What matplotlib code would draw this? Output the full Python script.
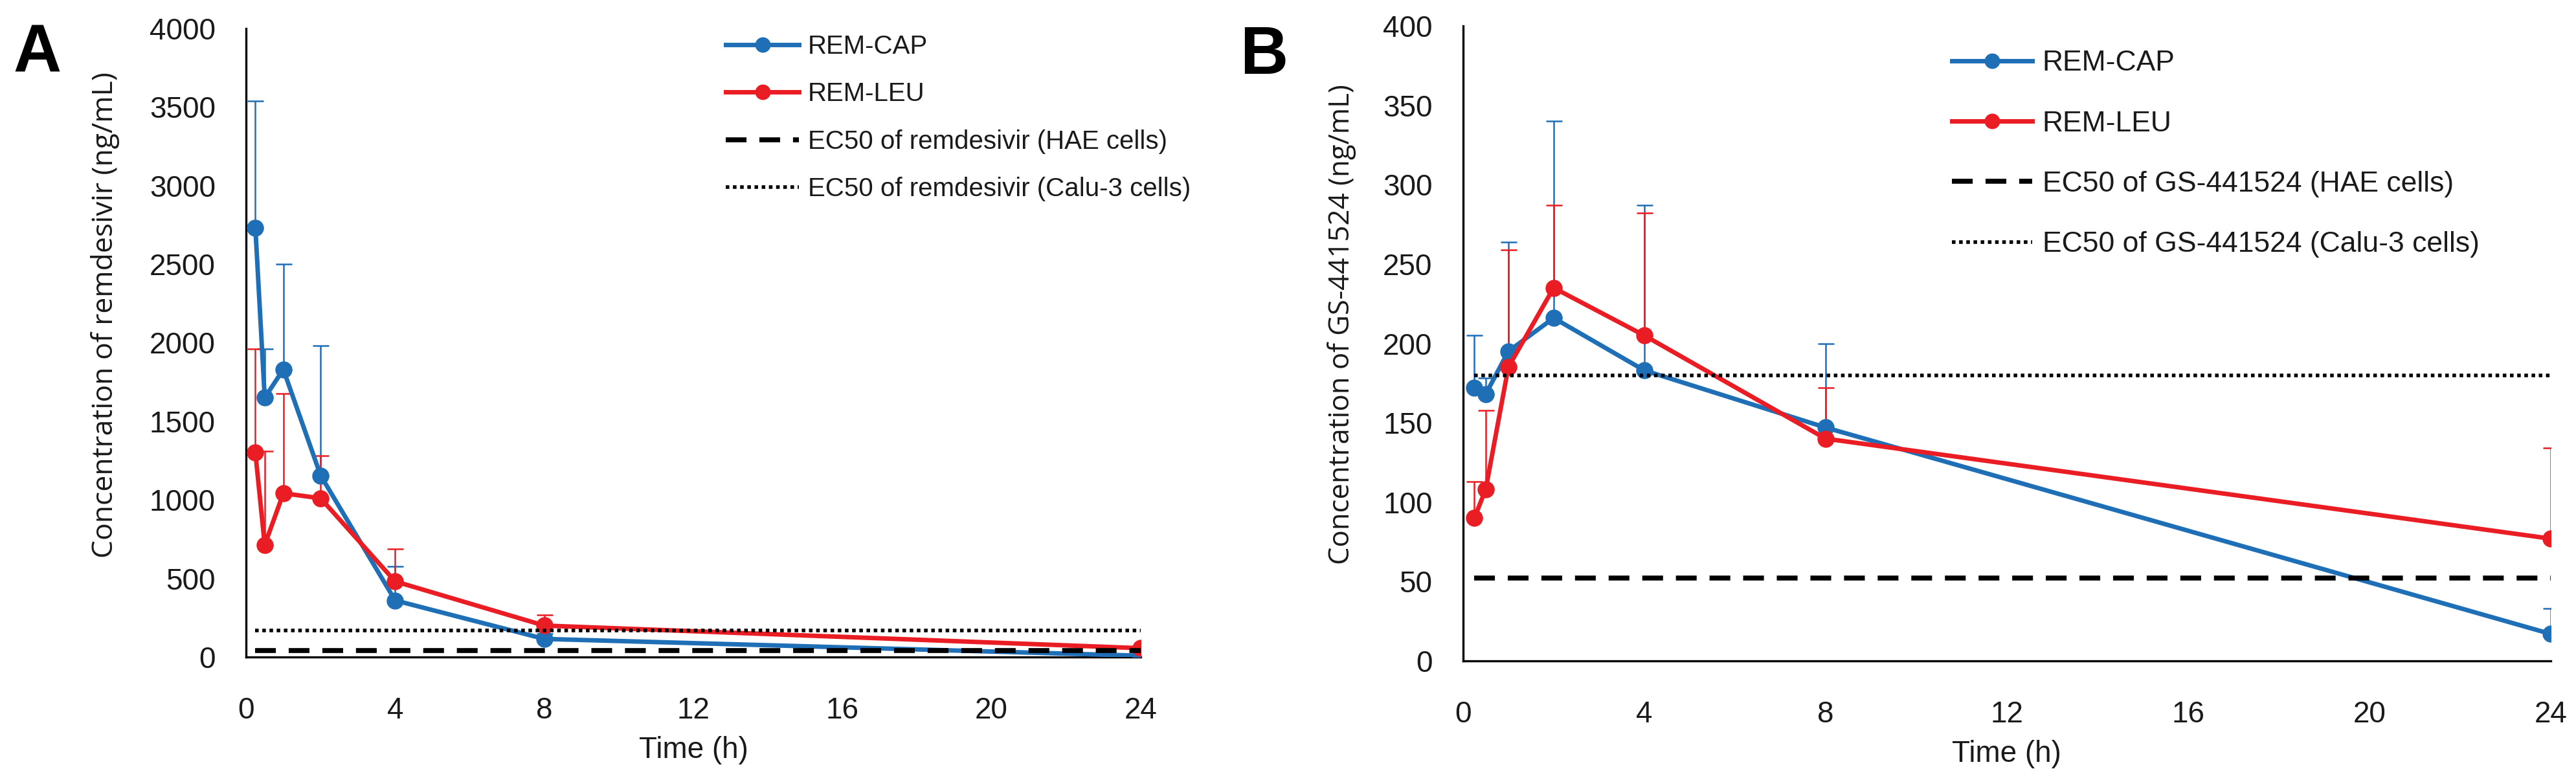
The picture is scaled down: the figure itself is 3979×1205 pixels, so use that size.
import matplotlib
matplotlib.use("Agg")
import matplotlib.pyplot as plt
import numpy as np

# sampling times (h)
time_h = [0.25, 0.5, 1, 2, 4, 8, 24]

# panel A: remdesivir (ng/mL), mean and upper SD
rem_cap_mean = [2730, 1650, 1830, 1155, 360, 115, 8]
rem_cap_sd = [810, 310, 670, 825, 217, 35, 7]
rem_leu_mean = [1300, 713, 1042, 1010, 481, 200, 56]
rem_leu_sd = [660, 596, 633, 272, 208, 68, 0]
ec50_rem_hae = 40
ec50_rem_calu = 170

# panel B: GS-441524 (ng/mL), mean and upper SD
gs_cap_mean = [172, 168, 195, 216, 183, 147, 17]
gs_cap_sd = [33, 10, 69, 124, 104, 53, 16]
gs_leu_mean = [90, 108, 185, 235, 205, 140, 77]
gs_leu_sd = [23, 50, 74, 52, 77, 32, 57]
ec50_gs_hae = 52
ec50_gs_calu = 180

series_names = ["REM-CAP", "REM-LEU"]
blue = "#1f6fb6"
red = "#ea1c24"

plt.rcParams["font.family"] = ["Liberation Sans", "DejaVu Sans"]

fig = plt.figure(figsize=(39.8, 12.05), dpi=100)
axA = fig.add_axes([0.0955, 0.1577, 0.3472, 0.8058])
axB = fig.add_axes([0.5678, 0.1527, 0.4221, 0.8141])


def draw_panel(ax, cap_m, cap_s, leu_m, leu_s, hae, calu, ymax, ystep, ylabel, ylab_size,
               ec_names, label_xy, leg_anchor, leg_size, leg_spacing):
    t = np.array(time_h)
    for m, s, c, name in [(cap_m, cap_s, blue, series_names[0]),
                          (leu_m, leu_s, red, series_names[1])]:
        m = np.array(m)
        s = np.array(s)
        ax.errorbar(t, m, yerr=[np.zeros_like(s), s], fmt="none", ecolor=c,
                    elinewidth=1.8, capsize=9, capthick=1.8, zorder=2)
        ax.plot(t, m, color=c, lw=5, marker="o", ms=18, zorder=3, label=name)
    ax.plot([t[0], t[-1]], [hae, hae], color="black", lw=5.5,
            linestyle=(0, (4.2, 2.6)), dash_capstyle="butt", zorder=4, label=ec_names[0])
    ax.plot([t[0], t[-1]], [calu, calu], color="black", lw=4,
            linestyle=(0, (1, 1)), dash_capstyle="butt", zorder=4, label=ec_names[1])

    ax.set_xlim(0, 24)
    ax.set_ylim(0, ymax)
    ax.set_xticks(range(0, 25, 4))
    ax.set_yticks(np.arange(0, ymax + 1, ystep))
    ax.tick_params(length=0, labelsize=33, colors="#1a1a1a")
    ax.tick_params(axis="y", pad=34)
    ax.tick_params(axis="x", pad=44)
    for sp in ["top", "right"]:
        ax.spines[sp].set_visible(False)
    for sp in ["left", "bottom"]:
        ax.spines[sp].set_linewidth(2.4)
    ax.set_xlabel("Time (h)", fontsize=33, labelpad=12, color="#1a1a1a")
    ax.set_ylabel(ylabel, fontsize=ylab_size, family=["Open Sans", "DejaVu Sans"], color="#1a1a1a")
    ax.yaxis.set_label_coords(*label_xy)

    handles, labels = ax.get_legend_handles_labels()
    leg = ax.legend(handles, labels, loc="upper left", bbox_to_anchor=leg_anchor,
                    bbox_transform=fig.transFigure, frameon=False, fontsize=leg_size,
                    handlelength=2.8, handletextpad=0.35, labelspacing=leg_spacing,
                    borderpad=0, borderaxespad=0, markerscale=0.9)
    for txt in leg.get_texts():
        txt.set_color("#1a1a1a")


draw_panel(axA, rem_cap_mean, rem_cap_sd, rem_leu_mean, rem_leu_sd,
           ec50_rem_hae, ec50_rem_calu, 4000, 500,
           "Concentration of remdesivir (ng/mL)", 32,
           ["EC50 of remdesivir (HAE cells)", "EC50 of remdesivir (Calu-3 cells)"],
           (-0.141, 0.544), (0.2817, 0.956), 29, 0.88)
draw_panel(axB, gs_cap_mean, gs_cap_sd, gs_leu_mean, gs_leu_sd,
           ec50_gs_hae, ec50_gs_calu, 400, 50,
           "Concentration of GS-441524 (ng/mL)", 31.5,
           ["EC50 of GS-441524 (HAE cells)", "EC50 of GS-441524 (Calu-3 cells)"],
           (-0.098, 0.53), (0.7575, 0.936), 32, 1.18)

fig.text(0.0145, 0.93, "A", fontsize=74, fontweight="bold", ha="center", va="center")
fig.text(0.4905, 0.927, "B", fontsize=74, fontweight="bold", ha="center", va="center")

fig.savefig("out.png", dpi=100)
